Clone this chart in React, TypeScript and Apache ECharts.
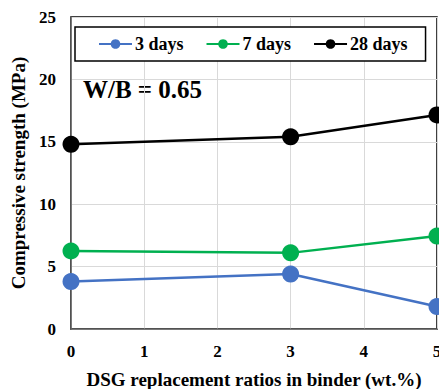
import React, { useEffect, useRef } from "react";
import * as echarts from "echarts";

const xValues = [0, 3, 5];
const seriesNames = ["3 days", "7 days", "28 days"];
const days3 = [3.8, 4.4, 1.8];
const days7 = [6.25, 6.1, 7.45];
const days28 = [14.8, 15.4, 17.15];
const colors = ["#4472C4", "#00B050", "#000000"];

const FONT = "Liberation Serif";

export default function App() {
  const ref = useRef<HTMLDivElement>(null);
  useEffect(() => {
    if (!ref.current) return;
    const chart = echarts.init(ref.current, undefined, { renderer: "svg" });
    const allData = [days3, days7, days28];
    chart.setOption({
      animation: false,
      backgroundColor: "#ffffff",
      grid: {
        left: 71,
        right: 2,
        top: 17,
        bottom: 60,
        show: true,
        borderColor: "#000000",
        borderWidth: 1.5,
        outerBoundsMode: "none",
        containLabel: false,
      },
      legend: {
        left: 75,
        top: 27,
        data: seriesNames,
        borderColor: "#000000",
        borderWidth: 1.5,
        backgroundColor: "#ffffff",
        padding: [8, 18, 8, 23],
        itemGap: 22,
        itemWidth: 33,
        itemHeight: 12,
        textStyle: {
          fontFamily: FONT,
          fontWeight: "bold",
          fontSize: 18,
          color: "#000",
          padding: [0, 0, 0, -2],
        },
      },
      xAxis: {
        type: "value",
        min: 0,
        max: 5,
        interval: 1,
        name: "DSG replacement ratios in binder (wt.%)",
        nameLocation: "middle",
        nameGap: 41,
        nameTextStyle: {
          fontFamily: FONT,
          fontWeight: "bold",
          fontSize: 19,
          color: "#000",
        },
        axisLine: { show: true, lineStyle: { color: "#595959", width: 1.5 } },
        axisTick: { show: false },
        axisLabel: {
          fontFamily: FONT,
          fontWeight: "bold",
          fontSize: 17,
          color: "#000",
          margin: 14,
        },
        splitLine: { show: true, lineStyle: { color: "#d9d9d9", width: 1 } },
      },
      yAxis: {
        type: "value",
        min: 0,
        max: 25,
        interval: 5,
        name: "Compressive strength (MPa)",
        nameLocation: "middle",
        nameGap: 42,
        nameTextStyle: {
          fontFamily: FONT,
          fontWeight: "bold",
          fontSize: 19,
          color: "#000",
        },
        axisLine: { show: true, lineStyle: { color: "#595959", width: 1.5 } },
        axisTick: { show: false },
        axisLabel: {
          fontFamily: FONT,
          fontWeight: "bold",
          fontSize: 17,
          color: "#000",
          margin: 15,
        },
        splitLine: { show: true, lineStyle: { color: "#d9d9d9", width: 1 } },
      },
      graphic: [
        {
          type: "text",
          left: 83,
          top: 77,
          style: {
            text: "W/B = 0.65",
            fontFamily: FONT,
            fontWeight: "bold",
            fontSize: 25,
            fill: "#000",
          },
        },
      ],
      series: seriesNames.map((name, i) => ({
        name,
        type: "line",
        data: xValues.map((x, j) => [x, allData[i][j]]),
        symbol: "circle",
        symbolSize: 17,
        clip: false,
        lineStyle: { color: colors[i], width: 2.5 },
        itemStyle: { color: colors[i] },
        z: 3 + i,
      })),
    });
    return () => chart.dispose();
  }, []);
  return <div ref={ref} style={{ width: 439, height: 389, position: "absolute", left: 0, top: 0 }} />;
}
